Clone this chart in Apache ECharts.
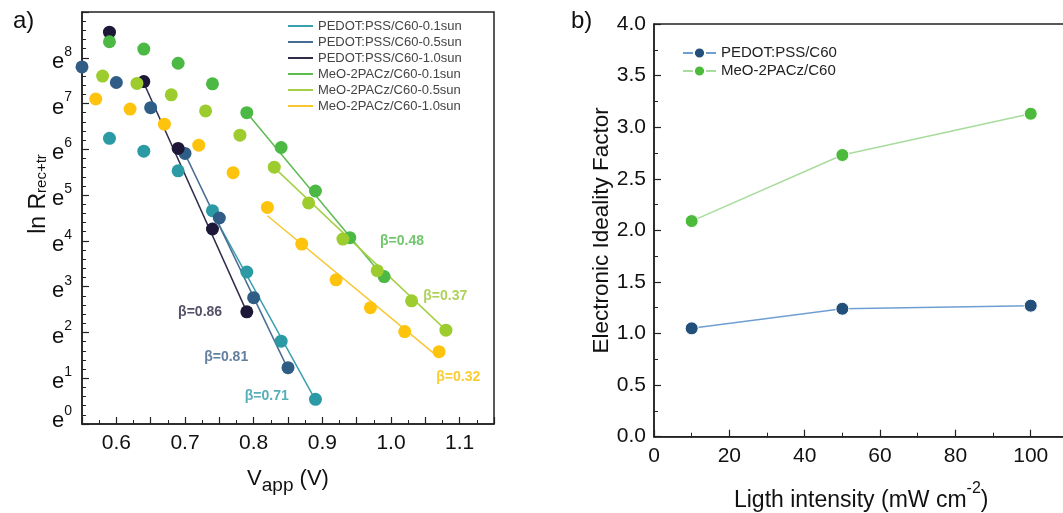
<!DOCTYPE html>
<html>
<head>
<meta charset="utf-8">
<script src="https://cdn.jsdelivr.net/npm/echarts@6/dist/echarts.min.js"></script>
<style>
  html, body { margin: 0; padding: 0; background: #fff; }
  #chart { width: 1063px; height: 513px; }
</style>
</head>
<body>
<div id="chart"></div>
<script>
// ---------- Panel a) data: [Vapp (V), ln R] ----------
const seriesNamesA = [
  'PEDOT:PSS/C60-0.1sun', 'PEDOT:PSS/C60-0.5sun', 'PEDOT:PSS/C60-1.0sun',
  'MeO-2PACz/C60-0.1sun', 'MeO-2PACz/C60-0.5sun', 'MeO-2PACz/C60-1.0sun'
];
const pedot01 = [[0.59,6.24],[0.64,5.96],[0.69,5.53],[0.74,4.66],[0.79,3.32],[0.84,1.81],[0.89,0.54]];
const pedot05 = [[0.55,7.80],[0.60,7.46],[0.65,6.91],[0.70,5.91],[0.75,4.50],[0.80,2.76],[0.85,1.23]];
const pedot10 = [[0.59,8.56],[0.64,7.48],[0.69,6.02],[0.74,4.26],[0.79,2.45]];
const meo01 = [[0.59,8.35],[0.64,8.19],[0.69,7.88],[0.74,7.43],[0.79,6.80],[0.84,6.04],[0.89,5.09],[0.94,4.07],[0.99,3.22]];
const meo05 = [[0.58,7.60],[0.63,7.44],[0.68,7.19],[0.73,6.84],[0.78,6.31],[0.83,5.61],[0.88,4.83],[0.93,4.04],[0.98,3.35],[1.03,2.69],[1.08,2.05]];
const meo10 = [[0.57,7.10],[0.62,6.88],[0.67,6.55],[0.72,6.09],[0.77,5.49],[0.82,4.73],[0.87,3.93],[0.92,3.15],[0.97,2.54],[1.02,2.02],[1.07,1.58]];

// fitted lines (end points)
const fitPedot01 = [[0.735,4.75],[0.89,0.52]];
const fitPedot05 = [[0.70,5.90],[0.85,1.20]];
const fitPedot10 = [[0.64,7.45],[0.79,2.45]];
const fitMeo01 = [[0.79,6.80],[0.995,3.10]];
const fitMeo05 = [[0.83,5.60],[1.08,2.05]];
const fitMeo10 = [[0.82,4.55],[1.07,1.45]];

// beta annotations: [x, y, text]
const betaLabels = [
  [0.722, 2.45, 'β=0.86'],
  [0.760, 1.47, 'β=0.81'],
  [0.819, 0.60, 'β=0.71'],
  [1.016, 4.00, 'β=0.48'],
  [1.079, 2.80, 'β=0.37'],
  [1.098, 1.03, 'β=0.32']
];

// ---------- Panel b) data ----------
const intensity = [10, 50, 100];
const idealityPedot = [1.05, 1.24, 1.27];
const idealityMeo = [2.09, 2.73, 3.13];

// ---------- styles ----------
const FONT = 'Liberation Sans, Arial, sans-serif';
const markerColors = ['#2b9aa5', '#2f5d86', '#1d1838', '#4cb944', '#9ccc2e', '#fec30d'];
const lineColors   = ['#3aa0ad', '#4a6c94', '#2f2c4a', '#5cbc50', '#a5cf45', '#f7c631'];
const betaColors   = ['#2a2440', '#3b5f86', '#2c9aa6', '#4db848', '#9ac531', '#f5c000'];

const dataA = [pedot01, pedot05, pedot10, meo01, meo05, meo10];
const fitsA = [fitPedot01, fitPedot05, fitPedot10, fitMeo01, fitMeo05, fitMeo10];

const chart = echarts.init(document.getElementById('chart'));

const series = [];
fitsA.forEach((f, i) => {
  series.push({
    type: 'line', xAxisIndex: 0, yAxisIndex: 0, data: f,
    symbol: 'none', silent: true, z: 1,
    lineStyle: { color: lineColors[i], width: 1.5 }
  });
});
dataA.forEach((d, i) => {
  series.push({
    name: seriesNamesA[i], type: 'scatter', xAxisIndex: 0, yAxisIndex: 0,
    data: d, symbolSize: 13, z: 2 + i, clip: true,
    itemStyle: { color: markerColors[i], opacity: 1 }
  });
});
series.push({
  type: 'scatter', xAxisIndex: 0, yAxisIndex: 0, symbolSize: 0, silent: true, z: 10,
  data: betaLabels.map((b, i) => ({
    value: [b[0], b[1]],
    label: {
      show: true, position: 'inside', formatter: b[2],
      color: betaColors[i], fontSize: 14, fontWeight: 'bold', fontFamily: FONT
    }
  }))
});
series.push({
  name: 'PEDOT:PSS/C60', type: 'line', xAxisIndex: 1, yAxisIndex: 1,
  data: intensity.map((x, i) => [x, idealityPedot[i]]),
  symbol: 'circle', symbolSize: 13,
  lineStyle: { color: '#6f9fd2', width: 1.5 },
  itemStyle: { color: '#22507a', borderColor: '#ffffff', borderWidth: 1 }
});
series.push({
  name: 'MeO-2PACz/C60', type: 'line', xAxisIndex: 1, yAxisIndex: 1,
  data: intensity.map((x, i) => [x, idealityMeo[i]]),
  symbol: 'circle', symbolSize: 13,
  lineStyle: { color: '#a8dc9c', width: 1.5 },
  itemStyle: { color: '#4cbb3c', borderColor: '#ffffff', borderWidth: 1 }
});

const axisLine = { show: true, onZero: false, lineStyle: { color: '#222', width: 1.5 } };
const tickStyle = { show: true, inside: true, length: 7, lineStyle: { color: '#222', width: 1.2 } };
const minorStyle = (n) => ({ show: true, splitNumber: n, length: 4, lineStyle: { color: '#222', width: 1 } });

const option = {
  backgroundColor: '#fff',
  animation: false,
  title: [
    { text: 'a)', left: 8, top: 4, textStyle: { fontSize: 24, fontWeight: 'normal', color: '#111', fontFamily: FONT } },
    { text: 'b)', left: 566, top: 4, textStyle: { fontSize: 24, fontWeight: 'normal', color: '#111', fontFamily: FONT } }
  ],
  legend: [
    {
      data: seriesNamesA.map((n, i) => ({ name: n, itemStyle: { color: lineColors[i] } })),
      orient: 'vertical', left: 288, top: 19, padding: 0,
      icon: 'rect', itemWidth: 25, itemHeight: 2, itemGap: 2,
      textStyle: { fontSize: 13, lineHeight: 14, color: '#444', fontFamily: FONT }
    },
    {
      data: ['PEDOT:PSS/C60', 'MeO-2PACz/C60'],
      orient: 'vertical', left: 682, top: 44, padding: 0,
      itemWidth: 33, itemHeight: 14, itemGap: 0,
      textStyle: { fontSize: 15, lineHeight: 18, color: '#222', fontFamily: FONT }
    }
  ],
  grid: [
    { left: 82, top: 12, width: 412, height: 412, show: true, borderColor: '#222', borderWidth: 1.5, outerBoundsMode: 'none', containLabel: false },
    { left: 654, top: 24, width: 414.4, height: 412.7, show: true, borderColor: '#222', borderWidth: 1.5, outerBoundsMode: 'none', containLabel: false }
  ],
  xAxis: [
    {
      gridIndex: 0, type: 'value', min: 0.55, max: 1.15, interval: 0.05,
      axisLine, axisTick: tickStyle, minorTick: minorStyle(2), splitLine: { show: false },
      axisLabel: {
        margin: 9, fontSize: 21, color: '#111', fontFamily: FONT,
        formatter: v => (Math.round(v * 100) % 10 === 0 ? v.toFixed(1) : '')
      },
      name: '{v|V}{s|app}{v| (V)}', nameLocation: 'middle', nameGap: 44, nameMoveOverlap: false,
      nameTextStyle: {
        rich: {
          v: { fontSize: 22, color: '#111', fontFamily: FONT, verticalAlign: 'top', lineHeight: 27 },
          s: { fontSize: 19, color: '#111', fontFamily: FONT, verticalAlign: 'bottom', lineHeight: 27 }
        }
      }
    },
    {
      gridIndex: 1, type: 'value', min: 0, max: 110, interval: 20,
      axisLine, axisTick: tickStyle, minorTick: minorStyle(2), splitLine: { show: false },
      axisLabel: {
        margin: 9, fontSize: 21, color: '#111', fontFamily: FONT,
        formatter: v => (v > 100 ? '' : String(v))
      },
      name: '{v|Ligth intensity (mW cm}{s|-2}{v|)}', nameLocation: 'middle', nameGap: 44, nameMoveOverlap: false,
      nameTextStyle: {
        rich: {
          v: { fontSize: 23, color: '#111', fontFamily: FONT, verticalAlign: 'bottom', lineHeight: 31 },
          s: { fontSize: 16, color: '#111', fontFamily: FONT, verticalAlign: 'top', lineHeight: 31 }
        }
      }
    }
  ],
  yAxis: [
    {
      gridIndex: 0, type: 'value', min: 0, max: 9, interval: 1,
      axisLine, axisTick: tickStyle, minorTick: minorStyle(5), splitLine: { show: false },
      axisLabel: {
        margin: 10, color: '#111', fontFamily: FONT, padding: [2, 0, 0, 0],
        formatter: v => (v > 8.5 ? '' : (v < 0.5 ? '{e|e}{s|0}\n{gap|}' : '{e|e}{s|' + Math.round(v) + '}')),
        rich: {
          e: { fontSize: 22, color: '#111', fontFamily: FONT, verticalAlign: 'bottom', lineHeight: 28 },
          s: { fontSize: 14, color: '#111', fontFamily: FONT, verticalAlign: 'top', lineHeight: 28 },
          gap: { fontSize: 10, lineHeight: 14 }
        }
      },
      name: '{a|ln R}{b|rec+tr}', nameLocation: 'middle', nameRotate: 90, nameGap: 25, nameMoveOverlap: false,
      nameTextStyle: {
        padding: [0, 0, 0, 48],
        rich: {
          a: { fontSize: 23, color: '#111', fontFamily: FONT, verticalAlign: 'top', lineHeight: 30 },
          b: { fontSize: 15, color: '#111', fontFamily: FONT, verticalAlign: 'middle', lineHeight: 30 }
        }
      }
    },
    {
      gridIndex: 1, type: 'value', min: 0, max: 4, interval: 0.5,
      axisLine, axisTick: tickStyle, minorTick: minorStyle(2), splitLine: { show: false },
      axisLabel: {
        margin: 8, fontSize: 21, color: '#111', fontFamily: FONT,
        formatter: v => v.toFixed(1)
      },
      name: 'Electronic Ideality Factor', nameLocation: 'middle', nameRotate: 90, nameGap: 41, nameMoveOverlap: false,
      nameTextStyle: { fontSize: 22.5, color: '#111', fontFamily: FONT }
    }
  ],
  series
};
chart.setOption(option);
</script>
</body>
</html>
